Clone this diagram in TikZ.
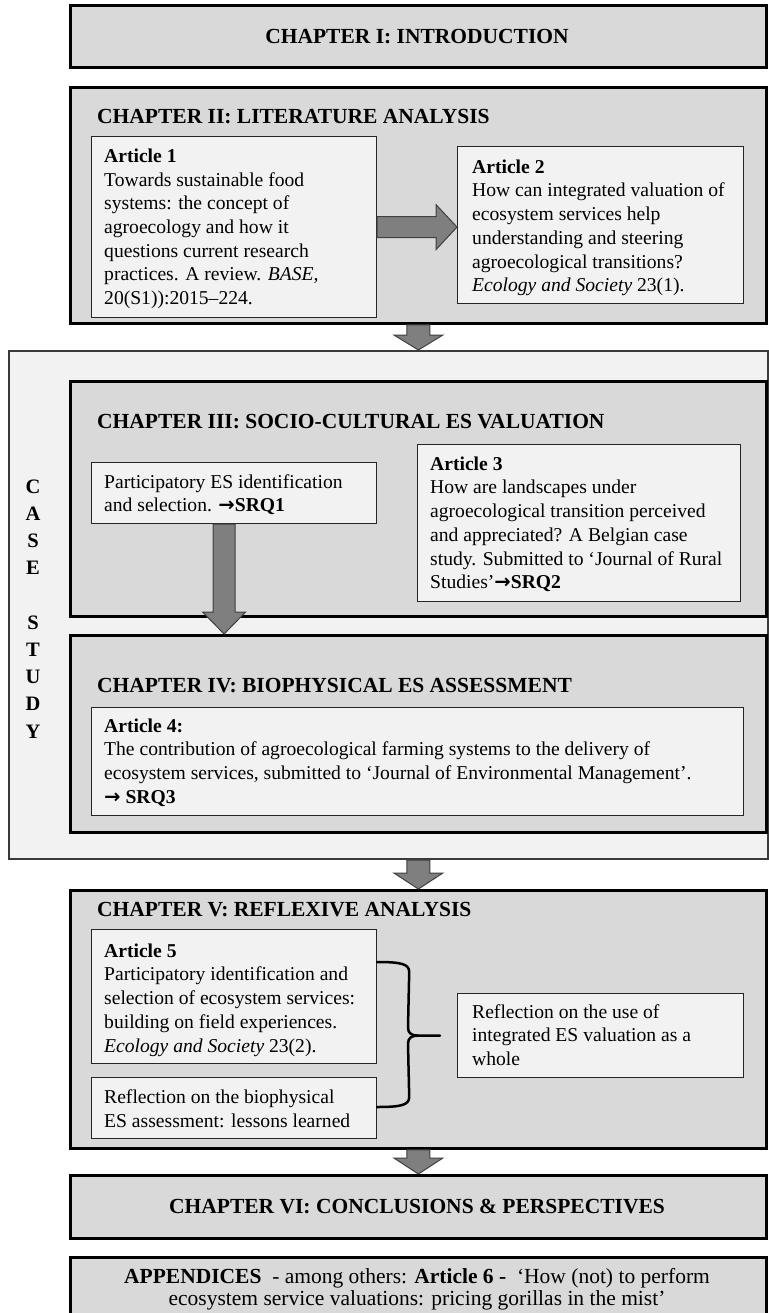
\documentclass[tikz,border=0pt]{standalone}
\usepackage{fontspec}
\setmainfont{Liberation Serif}
\newfontfamily\arrowfont{DejaVu Sans}
\usetikzlibrary{calc}

\definecolor{chapfill}{HTML}{D9D9D9}
\definecolor{paperfill}{HTML}{F2F2F2}
\definecolor{arrowfill}{HTML}{7F7F7F}
\definecolor{arrowline}{HTML}{404040}
\definecolor{boxline}{HTML}{262626}
\definecolor{caseline}{HTML}{3A3A3A}

\newcommand\bodysize{\fontsize{19.6}{23.7}\selectfont}
\newcommand\titlesize{\fontsize{21.5}{25}\selectfont\bfseries}
\newcommand\appsize{\fontsize{21.5}{22.3}\selectfont}
\newcommand\casesize{\fontsize{20.5}{27.2}\selectfont\bfseries}
% bold arrow pointing to a sub-research question
\newcommand\toq{{\arrowfont\bfseries →}}

% vertical block arrow: start, tip, half shaft width, half head width, head length
\newcommand\vfat[5]{%
  \draw[fatarrow] let \p1=(#1), \p2=(#2) in
    (\x1-#3pt,\y1) -- (\x1-#3pt,\y2+#5pt) -- (\x1-#4pt,\y2+#5pt) -- (\x1,\y2)
    -- (\x1+#4pt,\y2+#5pt) -- (\x1+#3pt,\y2+#5pt) -- (\x1+#3pt,\y1) -- cycle;}
% horizontal block arrow: start, tip, half shaft width, half head width, head length
\newcommand\hfat[5]{%
  \draw[fatarrow] let \p1=(#1), \p2=(#2) in
    (\x1,\y1+#3pt) -- (\x2-#5pt,\y1+#3pt) -- (\x2-#5pt,\y1+#4pt) -- (\x2,\y1)
    -- (\x2-#5pt,\y1-#4pt) -- (\x2-#5pt,\y1-#3pt) -- (\x1,\y1-#3pt) -- cycle;}

\tikzset{
  chap/.style={rectangle, draw=black, line width=2.8pt, fill=chapfill,
    anchor=north west, inner sep=0pt},
  paper/.style={rectangle, draw=boxline, line width=1.2pt, fill=paperfill,
    anchor=north west, inner sep=0pt},
  casebox/.style={rectangle, draw=caseline, line width=2pt, fill=paperfill,
    anchor=north west, inner sep=0pt},
  fatarrow/.style={draw=arrowline, line width=1pt, fill=arrowfill, line join=miter},
  bracepath/.style={draw=black, line width=2.5pt, line cap=round, line join=round},
  body/.style={font=\bodysize, align=left, inner sep=0pt, anchor=north west, yshift=16.59pt},
  ctitle/.style={font=\titlesize, inner sep=0pt, anchor=base west},
  cctitle/.style={font=\titlesize, inner sep=0pt, anchor=base},
  apptext/.style={font=\appsize, align=center, inner sep=0pt, anchor=north, yshift=15.61pt},
  caseletters/.style={font=\casesize, align=center, inner sep=0pt, anchor=north, yshift=19.04pt},
}

\begin{document}
\begin{tikzpicture}[x=1pt, y=-1pt]
\useasboundingbox (0,0) rectangle (768,1313);
\fill[white] (0,0) rectangle (768,1313);

% case study frame
\node[casebox, minimum width=759pt, minimum height=508pt] (cs) at (8,350) {};
\node[caseletters] (cslabel) at (33,493) {\strut C\\A\\S\\E\\[27.2pt]S\\T\\U\\D\\Y};

% chapters
\node[chap, minimum width=696pt, minimum height=62pt]  (ch1) at (69,4) {};
\node[chap, minimum width=696pt, minimum height=236pt] (ch2) at (69,86) {};
\node[chap, minimum width=696pt, minimum height=235pt] (ch3) at (69,380) {};
\node[chap, minimum width=696pt, minimum height=197pt] (ch4) at (69,634) {};
\node[chap, minimum width=696pt, minimum height=258pt] (ch5) at (69,889) {};
\node[chap, minimum width=696pt, minimum height=63pt]  (ch6) at (69,1174) {};
\node[chap, minimum width=696pt, minimum height=70pt]  (app) at (69,1256) {};

% chapter headings
\node[cctitle] (t1) at (417,43.5) {CHAPTER I: INTRODUCTION};
\node[ctitle]  (t2) at (97,123.3) {CHAPTER II: LITERATURE ANALYSIS};
\node[ctitle]  (t3) at (97,428.3) {CHAPTER III: SOCIO-CULTURAL ES VALUATION};
\node[ctitle]  (t4) at (97,692) {CHAPTER IV: BIOPHYSICAL ES ASSESSMENT};
\node[ctitle]  (t5) at (97,916.7) {CHAPTER V: REFLEXIVE ANALYSIS};
\node[cctitle] (t6) at (417,1213) {CHAPTER VI: CONCLUSIONS \& PERSPECTIVES};

% article boxes
\node[paper, minimum width=285pt, minimum height=181pt] (a1) at (91,136) {};
\node[paper, minimum width=286pt, minimum height=157pt] (a2) at (457,146) {};
\node[paper, minimum width=285pt, minimum height=61pt]  (part) at (91,462) {};
\node[paper, minimum width=323pt, minimum height=157pt] (a3) at (417,444) {};
\node[paper, minimum width=652pt, minimum height=108pt] (a4) at (91,707) {};
\node[paper, minimum width=285pt, minimum height=134pt] (a5) at (91,929) {};
\node[paper, minimum width=285pt, minimum height=61pt]  (rb) at (91,1077) {};
\node[paper, minimum width=286pt, minimum height=84pt]  (rw) at (457,993) {};

% box texts
\node[body] (a1t) at (104,162.3) {\strut\textbf{Article 1}\\
  Towards sustainable food\\
  systems: the concept of\\
  agroecology and how it\\
  questions current research\\
  practices. A review. \textit{BASE,}\\
  20(S1)):2015–224.};
\node[body] (a2t) at (472,173) {\strut\textbf{Article 2}\\
  How can integrated valuation of\\
  ecosystem services help\\
  understanding and steering\\
  agroecological transitions?\\
  \textit{Ecology and Society} 23(1).};
\node[body] (partt) at (104,488) {\strut Participatory ES identification\\
  and selection. \toq\textbf{SRQ1}};
\node[body] (a3t) at (430,470) {\strut\textbf{Article 3}\\
  How are landscapes under\\
  agroecological transition perceived\\
  and appreciated? A Belgian case\\
  study. Submitted to ‘Journal of Rural\\
  Studies’\toq\textbf{SRQ2}};
\node[body] (a4t) at (104,732) {\strut\textbf{Article 4:}\\
  The contribution of agroecological farming systems to the delivery of\\
  ecosystem services, submitted to ‘Journal of Environmental Management’.\\
  \toq\ \textbf{SRQ3}};
\node[body] (a5t) at (104,957) {\strut\textbf{Article 5}\\
  Participatory identification and\\
  selection of ecosystem services:\\
  building on field experiences.\\
  \textit{Ecology and Society} 23(2).};
\node[body] (rbt) at (104,1103.5) {\strut Reflection on the biophysical\\
  ES assessment: lessons learned};
\node[body] (rwt) at (472,1018) {\strut Reflection on the use of\\
  integrated ES valuation as a\\
  whole};
\node[apptext] (appt) at (417,1283) {\strut\textbf{APPENDICES}\ \ - among others: \textbf{Article 6 -}\ \ ‘How (not) to perform\\
  ecosystem service valuations: pricing gorillas in the mist’};

% block arrows
\hfat{a1.east}{a1.east -| a2.west}{10.5}{22.5}{21}
\vfat{ch2.south}{ch2.south |- cs.north}{11.5}{24.5}{15}
\coordinate (pa) at ($(part.south)+(-10,0)$);
\vfat{pa}{pa |- ch4.north}{11}{21.5}{22}
\vfat{ch5.north |- cs.south}{ch5.north}{11.5}{24.5}{16}
\vfat{ch5.south}{ch6.north}{11.5}{24.5}{16}

% brace joining the two reflections
\coordinate (bt) at ($(a5.north east)+(0,33)$);
\coordinate (bb) at ($(rb.north east)+(0,30)$);
\coordinate (btip) at ($(rw.west)+(-17,0)$);
\draw[bracepath] (bt) .. controls ($(bt)+(24,0)$) and ($(bt)+(32,2)$) .. ($(bt)+(32,10)$)
  -- ($(btip)+(-32,-8)$) .. controls ($(btip)+(-32,-2)$) and ($(btip)+(-28,0)$) .. ($(btip)+(-22,0)$)
  -- (btip);
\draw[bracepath] ($(btip)+(-22,0)$) .. controls ($(btip)+(-28,0)$) and ($(btip)+(-32,2)$) .. ($(btip)+(-32,8)$)
  -- ($(bb)+(32,-10)$) .. controls ($(bb)+(32,-2)$) and ($(bb)+(24,0)$) .. (bb);
\end{tikzpicture}
\end{document}
